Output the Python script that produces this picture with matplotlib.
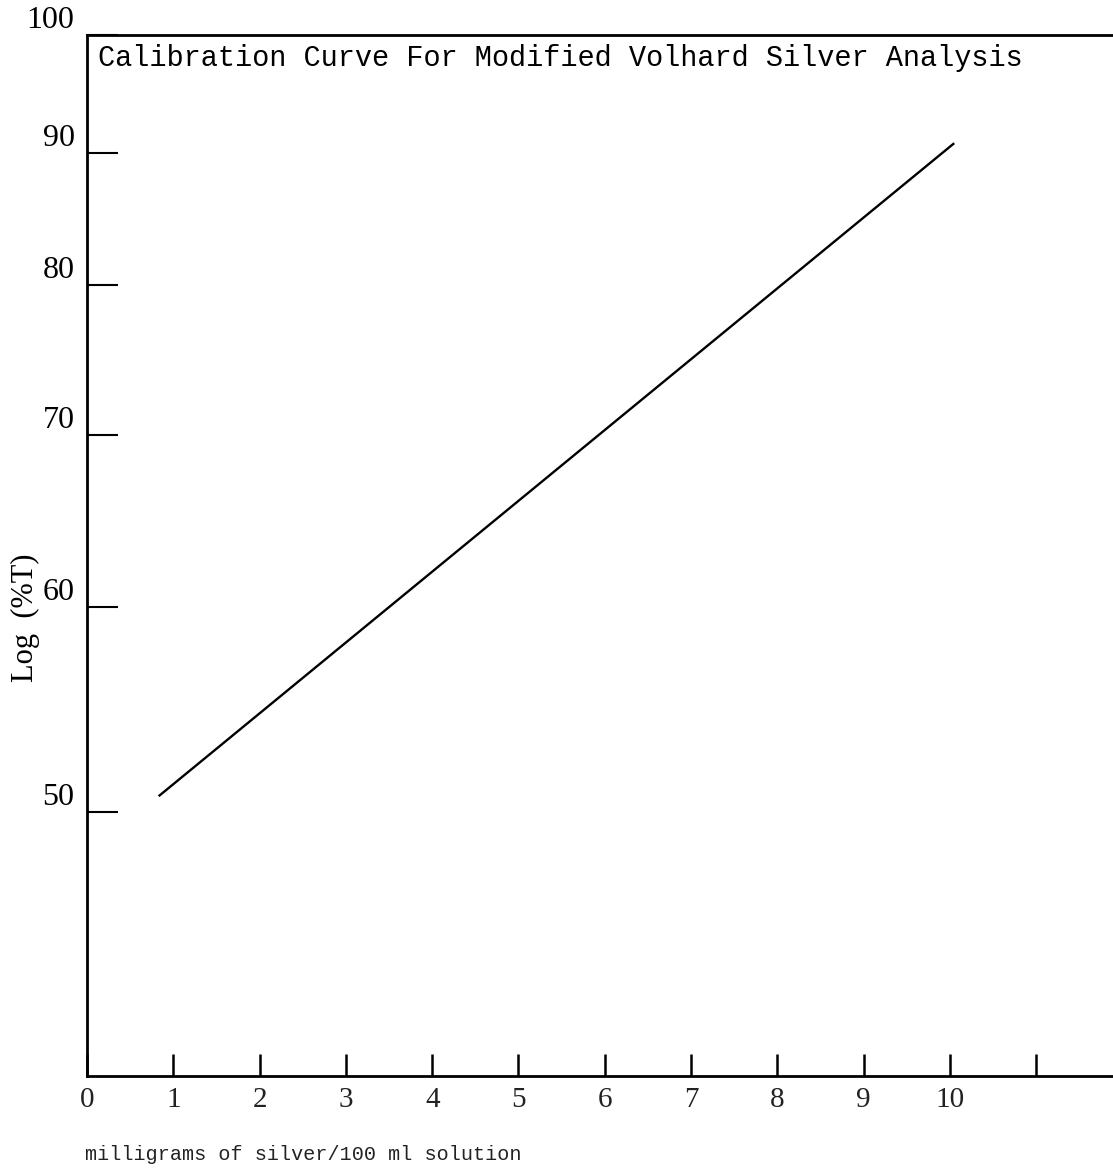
import matplotlib
matplotlib.use("Agg")
import matplotlib.pyplot as plt

# Calibration data: milligrams of silver per 100 ml vs Log(%T)
silver_mg = [0.83, 10.05]
log_pct_t = [50.7, 90.8]

x_ticks = [0, 1, 2, 3, 4, 5, 6, 7, 8, 9, 10, 11]
x_tick_labels = ["0", "1", "2", "3", "4", "5", "6", "7", "8", "9", "10", ""]
y_ticks = [50, 60, 70, 80, 90, 100]
y_tick_labels = ["50", "60", "70", "80", "90", "100"]

title = "Calibration Curve For Modified Volhard Silver Analysis"
x_label = "milligrams of silver/100 ml solution"
y_label = "Log  (%T)"

mono = ["Liberation Mono", "DejaVu Sans Mono"]
serif = ["Liberation Serif", "DejaVu Serif"]

fig = plt.figure(figsize=(11.13, 11.75), dpi=100)
ax = fig.add_axes([0.0782, 0.0843, 0.9218, 0.8859])

ax.plot(silver_mg, log_pct_t, color="black", lw=1.7, solid_capstyle="butt")

ax.set_yscale("log")
ax.set_xlim(0, 11.89)
ax.set_ylim(39.5, 100)

ax.set_xticks(x_ticks)
ax.set_xticklabels(x_tick_labels, family=serif, fontsize=21, color="#222222")
ax.set_yticks(y_ticks)
ax.set_yticklabels(y_tick_labels, family=serif, fontsize=23)
ax.yaxis.set_minor_locator(matplotlib.ticker.NullLocator())
for lbl in ax.get_yticklabels():
    lbl.set_verticalalignment("bottom")

ax.tick_params(axis="x", direction="in", length=16, width=1.8, pad=8)
ax.tick_params(axis="y", direction="in", length=22, width=1.5, pad=9)

for side in ("left", "bottom", "top"):
    ax.spines[side].set_linewidth(2.0)
ax.spines["right"].set_visible(False)

ax.text(0.011, 0.991, title, transform=ax.transAxes, ha="left", va="top",
        family=mono, fontsize=20.6)

ax.set_ylabel(y_label, family=serif, fontsize=22)
ax.yaxis.set_label_coords(-0.046, 0.44)

ax.set_xlabel(x_label, family=mono, fontsize=14.5, ha="left", color="#222222")
ax.xaxis.set_label_coords(-0.002, -0.066)

fig.savefig("out.png", dpi=100, facecolor="white")
